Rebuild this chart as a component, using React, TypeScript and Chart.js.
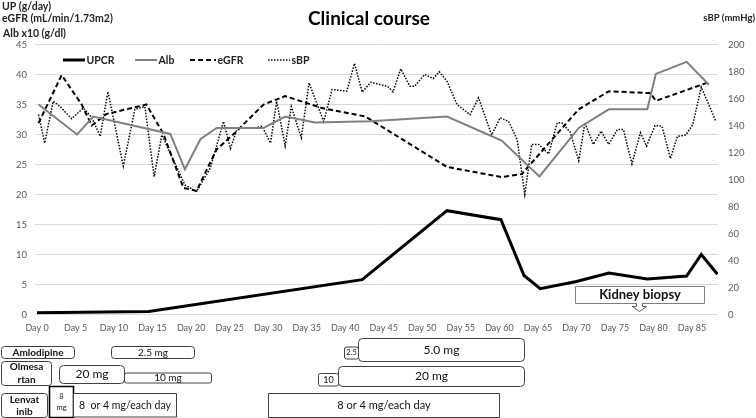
import React, { useEffect, useRef } from 'react';
import { Chart, registerables } from 'chart.js';

Chart.register(...registerables);

// ---------- data ----------
const dayTicks = [0, 5, 10, 15, 20, 25, 30, 35, 40, 45, 50, 55, 60, 65, 70, 75, 80, 85];

const upcrDays = [0, 14.5, 42.2, 53.2, 60.2, 63.2, 65.3, 70, 74.2, 79.2, 84.3, 86.2, 88.3];
const upcrValues = [0.3, 0.5, 5.8, 17.3, 15.8, 6.5, 4.3, 5.5, 6.9, 5.9, 6.4, 10, 6.7];

const albDays = [0.2, 5.2, 7.3, 17.3, 19.2, 21.2, 23.3, 29.4, 32.2, 36.1, 43.2, 53.2, 60.3, 65.2, 70.3, 74.2, 79.2, 80.3, 84.3, 87.2];
const albValues = [35, 30, 33, 30.1, 24.2, 29.2, 31.1, 31.1, 33, 32, 32.2, 33, 29, 23, 31.1, 34.2, 34.2, 40.1, 42.1, 38.3];

const egfrDays = [0.2, 3.2, 5.8, 7.1, 9.0, 14.2, 16.4, 19, 20.7, 23.3, 25.7, 29.4, 32.2, 37, 42.6, 53.2, 60.3, 62.9, 70.3, 74.2, 79.6, 80.3, 86.9];
const egfrValues = [31.9, 39.9, 35, 31.5, 33.4, 35, 30.1, 21.1, 20.6, 27.5, 30.3, 35, 36.4, 34.4, 33, 24.6, 22.9, 23.4, 34.2, 37.2, 36.9, 35.6, 38.6];

const sbpDays = [
  0.2, 1, 2.1, 3, 4.5, 6, 7.1, 8.2, 9.2, 11.2, 12.7, 14, 15.2, 16.2, 19.2, 20.7, 22.5, 24.2, 25.1, 26,
  28.1, 29.2, 30.3, 31.1, 32.2, 33, 34.3, 35.3, 37.2, 38.3, 40.2, 41.2, 42.2, 43.3, 45.5, 46.2, 47.2, 48.4,
  49, 50.3, 51.4, 52.2, 53.2, 54.5, 56.2, 57.3, 59, 60.1, 61.2, 62.3, 63.3, 64.2, 65.1, 66.4, 67.5, 68.1,
  69.2, 70.3, 71.1, 72.2, 73.2, 74.2, 75.3, 76.1, 77.2, 78.3, 79.1, 80.2, 81.1, 82.2, 83.1, 84.2, 85.1,
  86.2, 88.1,
];
const sbpValues = [
  148, 127, 158, 154, 145, 153, 146, 132, 165, 110, 152, 154, 102, 133, 96, 91, 108.6, 143, 123, 138,
  138, 139.5, 127, 158, 125, 154, 131, 171.6, 143, 166.7, 165.4, 186, 164.7, 172, 169, 165, 182, 169,
  169, 177.8, 174.8, 179.8, 172.8, 155.6, 148, 160.5, 133, 145.7, 143, 129.6, 89, 126, 126, 119, 142, 142,
  135, 114, 142, 126, 135.8, 126, 137, 137, 111.6, 134.6, 124.7, 140, 139.5, 115.6, 132, 133, 140.7,
  168.4, 143,
];

const seriesNames = ['UPCR', 'Alb', 'eGFR', 'sBP'];

const drugNames = ['Amlodipine', 'Olmesa\nrtan', 'Lenvat\ninib'];
const amlodipineDoses = [
  { from: 9.6, to: 20.4, label: '2.5 mg' },
  { from: 39.9, to: 41.7, label: '2.5' },
  { from: 41.7, to: 63.2, label: '5.0 mg' },
];
const olmesartanDoses = [
  { from: 2.8, to: 11.3, label: '20 mg' },
  { from: 11.3, to: 22.6, label: '10 mg' },
  { from: 36.5, to: 39.0, label: '10' },
  { from: 39.0, to: 63.2, label: '20 mg' },
];
const lenvatinibDoses = [
  { from: 1.5, to: 4.7, label: '8\nmg' },
  { from: 4.7, to: 18.1, label: '8  or 4 mg/each day' },
  { from: 30.0, to: 60.0, label: '8 or 4 mg/each day' },
];
const biopsyEvent = { from: 69.8, to: 86.5, at: 78.1, label: 'Kidney biopsy' };

// ---------- styles ----------
const FONT = 'Lato, "Open Sans", sans-serif';

const nameBoxStyles = [
  { x0: 1, x1: 74, top: 346, bottom: 358, radius: 3, size: 10, lh: 12 },
  { x0: 1, x1: 51, top: 361, bottom: 385, radius: 3, size: 10, lh: 13.5 },
  { x0: 1, x1: 47, top: 393, bottom: 417, radius: 3, size: 10, lh: 11.6 },
];
const amlodipineStyles = [
  { top: 346, bottom: 358, radius: 3, size: 10, lh: 12, width: 1, color: '#404040' },
  { top: 346.5, bottom: 358.5, radius: 2, size: 7.5, lh: 9, width: 1, color: '#404040' },
  { top: 338, bottom: 361, radius: 4, size: 12, lh: 13, width: 1, color: '#404040' },
];
const olmesartanStyles = [
  { top: 365, bottom: 383, radius: 4, size: 12, lh: 13, width: 1, color: '#404040' },
  { top: 372.5, bottom: 382.5, radius: 2, size: 10, lh: 12, width: 1, color: '#404040' },
  { top: 373, bottom: 385.5, radius: 2, size: 9, lh: 10, width: 1, color: '#404040' },
  { top: 366, bottom: 386, radius: 4, size: 12, lh: 13, width: 1, color: '#404040' },
];
const lenvatinibStyles = [
  { top: 386, bottom: 417, radius: 0, size: 7.5, lh: 11.6, width: 1.6, color: '#000000' },
  { top: 393, bottom: 416.5, radius: 0, size: 10.5, lh: 12, width: 1, color: '#404040' },
  { top: 393, bottom: 417, radius: 0, size: 11, lh: 12, width: 1, color: '#404040' },
];

function pathBox(ctx: CanvasRenderingContext2D, x0: number, y0: number, x1: number, y1: number, r: number) {
  ctx.beginPath();
  if (r <= 0) {
    ctx.rect(x0, y0, x1 - x0, y1 - y0);
    return;
  }
  ctx.moveTo(x0 + r, y0);
  ctx.lineTo(x1 - r, y0);
  ctx.arcTo(x1, y0, x1, y0 + r, r);
  ctx.lineTo(x1, y1 - r);
  ctx.arcTo(x1, y1, x1 - r, y1, r);
  ctx.lineTo(x0 + r, y1);
  ctx.arcTo(x0, y1, x0, y1 - r, r);
  ctx.lineTo(x0, y0 + r);
  ctx.arcTo(x0, y0, x0 + r, y0, r);
  ctx.closePath();
}

function drawBox(
  ctx: CanvasRenderingContext2D, x0: number, x1: number, st: any, label: string, bold: boolean,
) {
  pathBox(ctx, x0 + 0.5, st.top + 0.5, x1 + 0.5, st.bottom + 0.5, st.radius);
  ctx.fillStyle = '#ffffff';
  ctx.fill();
  ctx.lineWidth = st.width ?? 1;
  ctx.strokeStyle = st.color ?? '#404040';
  ctx.stroke();
  const lines = label.split('\n');
  ctx.fillStyle = '#111111';
  ctx.font = `${bold ? 'bold ' : ''}${st.size}px ${FONT}`;
  ctx.textAlign = 'center';
  ctx.textBaseline = 'middle';
  const cy = (st.top + st.bottom) / 2 + 0.5;
  const cx = (x0 + x1) / 2 + 0.5;
  lines.forEach((ln, i) => {
    ctx.fillText(ln, cx, cy + (i - (lines.length - 1) / 2) * st.lh);
  });
}

const decorPlugin = {
  id: 'decor',
  afterDraw(chart: any) {
    const ctx: CanvasRenderingContext2D = chart.ctx;
    const xs = chart.scales.x;
    ctx.save();

    // title
    ctx.fillStyle = '#000';
    ctx.font = `bold 19px ${FONT}`;
    ctx.textAlign = 'center';
    ctx.textBaseline = 'middle';
    ctx.fillText('Clinical course', 369, 19);

    // axis titles
    ctx.font = `bold 10.5px ${FONT}`;
    ctx.textAlign = 'left';
    ctx.fillStyle = '#222';
    ctx.fillText('UP (g/day)', 2, 7);
    ctx.fillText('eGFR (mL/min/1.73m2)', 2, 19);
    ctx.fillText('Alb x10 (g/dl)', 3, 34);
    ctx.font = `bold 9.5px ${FONT}`;
    ctx.textAlign = 'right';
    ctx.fillText('sBP (mmHg)', 755, 18);

    // legend
    const ly = 60;
    const legendItems = [
      { x0: 63, x1: 85, color: '#000', width: 3, dash: [] as number[] },
      { x0: 135, x1: 157, color: '#808080', width: 2, dash: [] as number[] },
      { x0: 190, x1: 216, color: '#000', width: 2, dash: [5, 3] },
      { x0: 268, x1: 290, color: '#000', width: 1.5, dash: [1.5, 1.5] },
    ];
    legendItems.forEach((it, i) => {
      ctx.beginPath();
      ctx.setLineDash(it.dash);
      ctx.lineWidth = it.width;
      ctx.strokeStyle = it.color;
      ctx.moveTo(it.x0, ly);
      ctx.lineTo(it.x1, ly);
      ctx.stroke();
      ctx.setLineDash([]);
      ctx.font = `bold 10.5px ${FONT}`;
      ctx.fillStyle = '#222';
      ctx.textAlign = 'left';
      ctx.textBaseline = 'middle';
      ctx.fillText(seriesNames[i], it.x1 + 1.5, ly + 0.5);
    });

    // kidney biopsy
    const bx0 = Math.round(xs.getPixelForValue(biopsyEvent.from));
    const bx1 = Math.round(xs.getPixelForValue(biopsyEvent.to));
    const ax = Math.round(xs.getPixelForValue(biopsyEvent.at));
    ctx.beginPath();
    ctx.moveTo(ax - 3 + 0.5, 303.5);
    ctx.lineTo(ax - 3 + 0.5, 306.5);
    ctx.lineTo(ax - 7 + 0.5, 306.5);
    ctx.lineTo(ax + 0.5, 311.5);
    ctx.lineTo(ax + 7 + 0.5, 306.5);
    ctx.lineTo(ax + 3 + 0.5, 306.5);
    ctx.lineTo(ax + 3 + 0.5, 303.5);
    ctx.closePath();
    ctx.fillStyle = '#fff';
    ctx.fill();
    ctx.lineWidth = 1;
    ctx.strokeStyle = '#595959';
    ctx.stroke();
    drawBox(ctx, bx0, bx1, { top: 286, bottom: 303, radius: 0, size: 13, lh: 14, width: 1, color: '#7f7f7f' }, biopsyEvent.label, true);
    ctx.beginPath();
    ctx.strokeStyle = '#fff';
    ctx.moveTo(ax - 2, 303.5);
    ctx.lineTo(ax + 3, 303.5);
    ctx.stroke();

    // drug names
    drugNames.forEach((nm, i) => {
      const st = nameBoxStyles[i];
      drawBox(ctx, st.x0, st.x1, { ...st, width: 1, color: '#404040' }, nm, true);
    });

    const rows: [typeof amlodipineDoses, any[]][] = [
      [amlodipineDoses, amlodipineStyles],
      [olmesartanDoses, olmesartanStyles],
      [lenvatinibDoses, lenvatinibStyles],
    ];
    rows.forEach(([doses, styles]) => {
      doses.forEach((d, i) => {
        const x0 = Math.round(xs.getPixelForValue(d.from));
        const x1 = Math.round(xs.getPixelForValue(d.to));
        drawBox(ctx, x0, x1, styles[i], d.label, false);
      });
    });

    ctx.restore();
  },
};

const toPoints = (xs: number[], ys: number[]) => xs.map((x, i) => ({ x, y: ys[i] }));

export default function App() {
  const ref = useRef<HTMLCanvasElement>(null);
  useEffect(() => {
    document.body.style.margin = '0';
    const canvas = ref.current!;
    const chart = new Chart(canvas, {
      type: 'line',
      data: {
        datasets: [
          {
            label: seriesNames[0],
            data: toPoints(upcrDays, upcrValues),
            borderColor: '#000',
            borderWidth: 3,
            pointRadius: 0,
            yAxisID: 'y',
          },
          {
            label: seriesNames[1],
            data: toPoints(albDays, albValues),
            borderColor: '#808080',
            borderWidth: 2,
            pointRadius: 0,
            yAxisID: 'y',
          },
          {
            label: seriesNames[2],
            data: toPoints(egfrDays, egfrValues),
            borderColor: '#000',
            borderWidth: 2,
            borderDash: [5, 3],
            pointRadius: 0,
            yAxisID: 'y',
          },
          {
            label: seriesNames[3],
            data: toPoints(sbpDays, sbpValues),
            borderColor: '#000',
            borderWidth: 1.5,
            borderDash: [1.5, 1.5],
            pointRadius: 0,
            yAxisID: 'y1',
          },
        ] as any,
      },
      options: {
        responsive: false,
        animation: false,
        devicePixelRatio: 1,
        layout: { padding: { top: 44.5, left: 0, right: 0, bottom: 0 } },
        plugins: { legend: { display: false }, title: { display: false }, tooltip: { enabled: false } },
        elements: { line: { tension: 0, fill: false } },
        scales: {
          x: {
            type: 'linear',
            min: -0.26,
            max: 88.37,
            afterBuildTicks: (s: any) => {
              s.ticks = dayTicks.map((v) => ({ value: v }));
            },
            afterFit: (s: any) => {
              s.height = 103.5;
            },
            ticks: {
              callback: (v: any) => 'Day ' + v,
              color: '#595959',
              font: { size: 9, family: FONT },
              padding: 8,
              maxRotation: 0,
              autoSkip: false,
            },
            grid: { display: false, drawTicks: false },
            border: { display: false },
          },
          y: {
            position: 'left',
            min: 0,
            max: 45,
            ticks: { stepSize: 5, color: '#595959', font: { size: 9.5, family: FONT }, padding: 8 },
            grid: { color: '#d9d9d9', lineWidth: 1, drawTicks: false },
            border: { display: false },
            afterFit: (s: any) => {
              s.width = 35;
            },
          },
          y1: {
            position: 'right',
            min: 0,
            max: 200,
            ticks: { stepSize: 20, color: '#595959', font: { size: 9.5, family: FONT }, padding: 10 },
            grid: { display: false, drawTicks: false },
            border: { display: false },
            afterFit: (s: any) => {
              s.width = 38;
            },
          },
        },
      } as any,
      plugins: [decorPlugin],
    });
    return () => chart.destroy();
  }, []);
  return (
    <div style={{ width: 756, height: 418, position: 'relative', background: '#fff' }}>
      <canvas ref={ref} width={756} height={418} style={{ display: 'block', width: 756, height: 418 }} />
    </div>
  );
}
